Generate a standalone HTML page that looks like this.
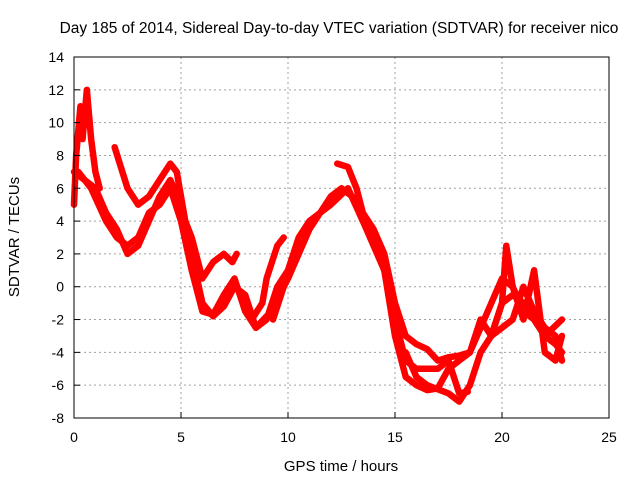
<!DOCTYPE html>
<html><head><meta charset="utf-8"><style>
body{margin:0;background:#fff;font-family:"Liberation Sans",sans-serif}
svg text{font-family:"Liberation Sans",sans-serif;font-size:14px;fill:#000}
</style></head><body>
<svg id="chart" width="640" height="480" xmlns="http://www.w3.org/2000/svg">
<text x="339" y="33" text-anchor="middle" style="font-size:15.5px">Day 185 of 2014, Sidereal Day-to-day VTEC variation (SDTVAR) for receiver nico</text>
<text x="341" y="471" text-anchor="middle" style="font-size:15px">GPS time / hours</text>
<text transform="translate(19,237) rotate(-90)" text-anchor="middle" style="font-size:15px">SDTVAR / TECUs</text>
<g id="grid"></g><g id="series"></g><g id="axes"></g>
</svg>
<script>
const xTicks=[0,5,10,15,20,25];
const yTicks=[-8,-6,-4,-2,0,2,4,6,8,10,12,14];
const track1=[[0,7],[0.5,6.5],[1,6],[1.5,4.5],[2,3.5],[2.5,2],[3,2.5],[3.5,4],[4,5.5],[4.5,6.5],[5,5],[5.5,2],[6,-1],[6.5,-1.8],[7,-1.2],[7.5,0],[8,-0.5],[8.5,-2.5],[9,-2],[9.5,0],[10,1],[10.5,3],[11,4],[12,5],[12.8,6],[13.5,4],[14,3],[14.5,1],[15,-3],[15.5,-5.5],[16,-6],[16.5,-6.3],[17,-6.2],[17.5,-5],[18,-4.5],[18.5,-4],[19,-2],[19.5,-3],[20,-1],[20.5,-0.5],[21,-1],[21.5,-2],[22,-3],[22.5,-3.5],[22.8,-4]];
const track2=[[1.9,8.5],[2.5,6],[3,5],[3.5,5.5],[4,6.5],[4.5,7.5],[4.8,7],[5.2,4],[5.5,3],[6,0.5],[6.5,1.5],[7,2],[7.4,1.5],[7.6,2]];
const track3=[[0.2,7],[0.8,6],[1.5,4],[2,3],[2.5,2.5],[3,3],[3.5,4.5],[4,5],[4.5,6],[5,4],[5.5,1],[6,-1.5],[6.5,-1.7],[7,-0.5],[7.5,0.5],[8,-1.5],[8.5,-2.5],[9,-1.8]];
const track4=[[0,5],[0.1,8],[0.3,11],[0.4,9],[0.6,12],[0.8,9],[1,7],[1.2,6]];
const track5=[[8.3,-2],[8.8,-1],[9,0.5],[9.5,2.5],[9.8,3]];
const track6=[[9.3,-2],[9.8,0],[10,0.5],[10.5,2],[11,3.5],[11.5,4.5],[12,5.5],[12.5,6],[13,5.5],[13.5,4],[14.5,1],[15,-2],[15.5,-4.5],[16,-5],[16.5,-5],[17,-5],[17.5,-4.5],[18,-6.5],[18.4,-6.4]];
const track7=[[12.3,7.5],[12.8,7.3],[13.2,6],[13.5,4.5],[14,3.5],[14.5,2],[15,-1],[15.5,-3],[16,-3.5],[16.5,-3.8],[17,-4.5],[17.5,-4.3],[18,-4.2],[18.5,-4],[19,-2.5],[19.5,-1],[20,0.5],[20.5,0],[21,-1.5],[21.5,-2],[22,-3],[22.8,-2]];
const track8=[[15.5,-4],[16,-5.5],[16.5,-6],[17.5,-6.5],[18,-7],[18.5,-6],[19,-4],[19.5,-3],[20,-2.5],[20.5,-2],[21,0],[21.5,-1.5],[22,-2.5],[22.5,-3],[22.8,-4.5]];
const track9=[[19.5,-3],[20,-1],[20.2,2.5],[20.5,0],[21,-2],[21.5,1],[22,-4],[22.5,-4.5],[22.8,-3]];
const tracks=[track1,track2,track3,track4,track5,track6,track7,track8,track9];
const L=74,R=609,T=57,B=418;
const sx=v=>L+(v-0)/25*(R-L);
const sy=v=>B-(v+8)/22*(B-T);
const NS="http://www.w3.org/2000/svg";
function mk(tag,attrs,parent){const e=document.createElementNS(NS,tag);for(const k in attrs)e.setAttribute(k,attrs[k]);parent.appendChild(e);return e;}
const grid=document.getElementById('grid'),axes=document.getElementById('axes'),ser=document.getElementById('series');
xTicks.forEach(t=>{
 if(t>0&&t<25){const g=mk('line',{x1:sx(t),x2:sx(t),y1:T,y2:B,stroke:'#a0a0a0','stroke-dasharray':'2,3'},grid);
 }
 const tk=mk('line',{x1:sx(t),x2:sx(t),y1:B,y2:B-6,stroke:'#000'},axes);
 
 const tx=mk('text',{x:sx(t),y:B+24,'text-anchor':'middle'},axes);tx.textContent=t;
 
});
yTicks.forEach(t=>{
 if(t>-8&&t<14){const g=mk('line',{x1:L,x2:R,y1:sy(t),y2:sy(t),stroke:'#a0a0a0','stroke-dasharray':'2,3'},grid);
 }
 const tk=mk('line',{x1:L,x2:L+6,y1:sy(t),y2:sy(t),stroke:'#000'},axes);
 
 const tx=mk('text',{x:L-10,y:sy(t)+5,'text-anchor':'end'},axes);tx.textContent=t;
 
});
const frame=mk('rect',{x:L,y:T,width:R-L,height:B-T,fill:'none',stroke:'#000'},axes);

tracks.forEach((tr,i)=>{
 const p=mk('polyline',{points:tr.map(d=>sx(d[0])+','+sy(d[1])).join(' '),fill:'none',stroke:'#ff0000','stroke-width':6.5,'stroke-linejoin':'round','stroke-linecap':'round'},ser);
 
 
});
</script>
</body></html>
